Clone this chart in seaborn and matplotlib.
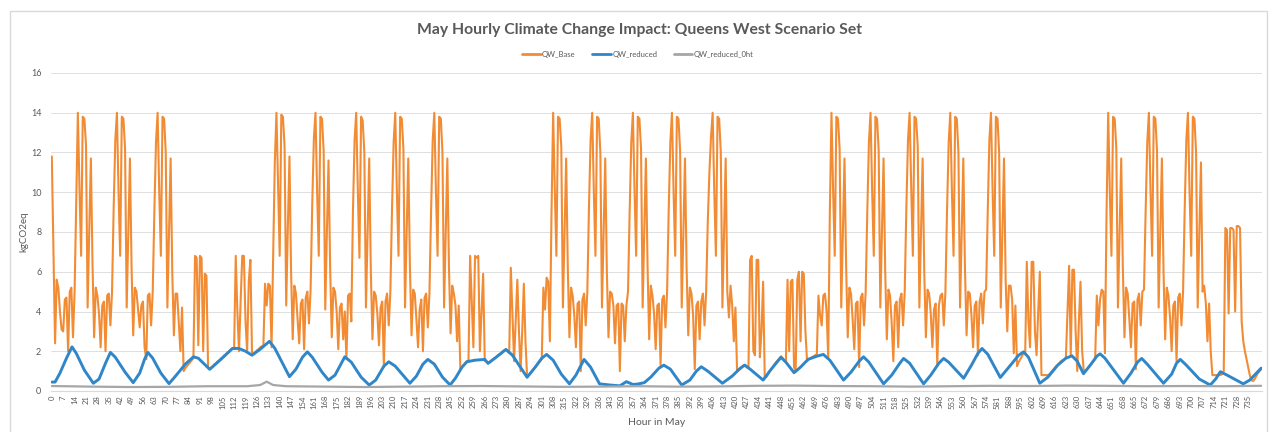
import numpy as np
import pandas as pd
import matplotlib
matplotlib.use("Agg")
import matplotlib.pyplot as plt
import seaborn as sns
from matplotlib.patches import Rectangle
from matplotlib.lines import Line2D

# ---------------- text ----------------
title = "May Hourly Climate Change Impact: Queens West Scenario Set"
series_names = ["QW_Base", "QW_reduced", "QW_reduced_0ht"]
x_label = "Hour in May"
y_label = "kgCO2eq"
y_ticks = [0, 2, 4, 6, 8, 10, 12, 14, 16]
x_tick_hours = list(range(0, 742, 7))

# ---------------- QW_Base (hourly) ----------------
base_week1 = [
    11.8, 7.0, 2.4, 5.6, 5.2, 4.0, 3.1, 3.0, 4.6, 4.7, 2.0, 5.0, 5.2, 2.7, 5.0, 9.5,
    14.0, 10.2, 6.8, 13.8, 13.7, 12.4, 4.2, 8.1, 11.7, 6.4, 2.7, 5.2, 4.8, 3.9, 2.2, 4.3, 4.5, 2.0, 4.8, 4.9, 3.3, 5.0, 9.2, 12.6,
    14.0, 10.0, 6.8, 13.8, 13.7, 12.2, 4.2, 8.0, 11.7, 6.2, 2.8, 5.2, 5.0, 4.1, 3.2, 4.3, 4.5, 2.2, 1.6, 4.8, 4.9, 3.3, 5.0, 9.0, 12.5,
]
base_weekend1 = [
    14.0, 10.0, 6.8, 13.8, 13.7, 12.0, 4.2, 8.0, 11.7, 6.0, 2.8, 4.9, 4.9, 3.4, 2.0, 4.2,
    1.0, 1.15, 1.25, 1.35, 1.45, 1.55, 1.65,
    6.8, 6.7, 2.3, 6.8, 6.7, 2.0, 5.9, 5.8, 1.2,
    1.1, 1.2, 1.25, 1.35, 1.4, 1.5, 1.55, 1.65, 1.7, 1.8, 1.85, 1.95, 2.0, 2.1, 2.15, 2.15,
    6.8, 4.0, 2.0, 4.5, 6.8, 6.8, 3.5, 2.0, 5.5, 6.6, 1.9,
    1.9, 1.95, 2.05, 2.1, 2.2, 2.25, 2.3,
    5.4, 4.3, 5.4, 5.3, 2.2, 7.0, 11.5,
]
base_week2 = [
    14.0, 10.3, 6.8, 13.9, 13.8, 12.3, 4.3, 8.2, 11.8, 6.0, 2.6, 5.3, 4.9, 3.6, 2.4, 4.4, 4.6, 2.1, 4.7, 5.0, 3.4, 5.1, 9.4, 12.7,
    14.0, 10.0, 6.8, 13.8, 13.7, 12.1, 4.1, 8.0, 11.6, 6.2, 2.7, 5.2, 5.0, 4.0, 2.1, 4.2, 4.4, 2.6, 4.0, 1.6, 4.8, 4.9, 3.5, 9.0, 12.6,
    14.0, 10.1, 6.7, 13.8, 13.6, 12.0, 4.2, 8.0, 11.7, 6.0, 2.6, 5.0, 4.8, 3.9, 2.3, 4.2, 4.5, 1.2, 4.5, 4.9, 3.3, 5.0, 9.1, 12.5,
    14.0, 10.0, 6.8, 13.8, 13.7, 12.2, 4.2, 8.0, 11.7, 6.3, 2.8, 5.1, 4.9, 3.6, 2.2, 4.1, 4.6, 2.0, 4.7, 4.9, 3.2, 4.9, 9.0, 12.6,
]
base_weekend2 = [
    14.0, 10.0, 6.8, 13.8, 13.7, 12.0, 4.2, 8.0, 11.7, 6.2, 2.9, 5.3, 4.9, 4.3, 2.5, 4.3, 1.1,
    1.2, 1.3, 1.4, 1.5, 1.55,
    6.8, 4.5, 2.2, 6.8, 6.7, 6.8, 2.0, 4.0, 5.9, 1.5,
    1.5, 1.4, 1.45, 1.5, 1.6, 1.65, 1.7, 1.8, 1.85, 1.9, 2.0, 2.05, 2.1, 2.0, 1.9,
    6.2, 3.8, 1.5, 3.5, 5.6, 3.0, 1.0, 3.0, 5.4, 2.5, 0.75,
    0.8, 0.9, 1.0, 1.1, 1.2, 1.3, 1.4, 1.5, 1.6,
    5.2, 4.1, 5.7, 5.5, 2.5, 9.0,
]
base_week3 = [
    14.0, 10.2, 6.8, 13.8, 13.7, 12.3, 4.2, 8.0, 11.7, 6.2, 2.7, 5.2, 4.8, 3.8, 2.2, 4.4, 4.5, 1.0, 4.6, 4.9, 3.3, 5.0, 9.2, 12.6,
    14.0, 10.0, 6.8, 13.8, 13.7, 12.0, 4.2, 8.0, 11.7, 6.0, 2.7, 5.0, 4.9, 4.3, 2.4, 4.3, 4.4, 1.0, 4.4, 4.3, 2.5, 4.3, 5.0, 9.0, 12.5,
    14.0, 10.1, 6.8, 13.8, 13.7, 12.2, 4.2, 8.1, 11.7, 6.3, 2.6, 5.3, 4.8, 3.9, 2.1, 4.3, 4.4, 1.3, 4.6, 4.8, 3.2, 5.0, 9.1, 12.5,
    14.0, 10.0, 6.8, 13.8, 13.7, 12.1, 4.2, 8.0, 11.7, 6.2, 2.8, 5.2, 4.9, 3.8, 1.1, 4.3, 4.5, 2.6, 4.5, 4.9, 3.3, 5.0, 8.5, 11.0, 12.8,
]
base_weekend3 = [
    14.0, 10.0, 6.8, 13.8, 13.7, 12.0, 4.2, 8.0, 11.7, 5.0, 3.7, 5.3, 4.3, 2.5, 4.2, 1.0,
    1.05, 1.1, 1.2, 1.3, 1.3, 1.2, 1.15,
    6.6, 6.8, 2.0, 1.8, 6.6, 6.6, 1.7, 3.0, 5.5, 0.7,
    0.7, 0.85, 1.0, 1.1, 1.2, 1.35, 1.45, 1.55, 1.65, 1.75, 1.65, 1.55, 1.45,
    5.6, 2.0, 5.5, 5.6, 1.2, 1.0, 5.6, 6.0, 2.5, 6.0, 5.9, 3.0,
    1.5, 1.6, 1.65, 1.7, 1.75, 1.8, 1.85,
    4.8, 3.8, 3.3, 4.8, 4.9, 4.0, 1.7, 9.0,
]
base_week4 = [
    14.0, 10.1, 6.8, 13.8, 13.7, 12.2, 4.2, 8.0, 11.7, 6.3, 2.7, 5.2, 4.9, 3.6, 2.1, 4.4, 4.5, 1.2, 4.7, 4.9, 3.3, 5.0, 9.0, 12.5,
    14.0, 10.0, 6.8, 13.8, 13.7, 12.1, 4.2, 8.0, 11.7, 6.1, 2.6, 5.1, 4.8, 3.4, 1.5, 4.3, 4.5, 2.2, 4.6, 4.9, 3.3, 5.0, 9.2, 12.6,
    14.0, 10.2, 6.8, 13.8, 13.7, 12.3, 4.2, 8.0, 11.7, 6.0, 2.7, 5.1, 4.9, 3.9, 2.2, 4.1, 4.4, 1.3, 4.3, 4.8, 4.9, 3.3, 5.0, 9.1, 12.5,
    14.0, 10.0, 6.8, 13.8, 13.7, 12.0, 4.2, 8.0, 11.7, 6.2, 2.8, 5.0, 4.9, 3.8, 2.2, 4.3, 4.5, 1.8, 4.5, 4.9, 3.4, 5.0, 5.1, 9.0, 12.6,
]
base_weekend4 = [
    14.0, 10.0, 6.8, 13.8, 13.7, 12.0, 4.2, 8.0, 11.7, 5.6, 3.0, 5.3, 5.3, 4.6, 1.9, 4.3,
    1.25, 1.45, 1.6, 1.75, 1.9, 1.85,
    6.5, 3.5, 2.2, 6.5, 6.5, 3.0, 1.8, 4.0, 6.0, 0.8,
    0.8, 0.8, 0.8, 0.8, 0.85, 0.95,
    1.05, 1.15, 1.25, 1.3, 1.4, 1.5, 1.55, 1.6, 1.65,
    4.0, 6.3, 1.8, 6.1, 6.1, 3.0, 1.0, 3.5, 5.5, 2.0, 1.0,
    1.0, 1.1, 1.2, 1.3, 1.4, 1.5, 1.6,
    4.8, 3.3, 4.6, 5.1, 5.0, 1.9, 9.0,
]
base_week5 = [
    14.0, 10.0, 6.8, 13.8, 13.7, 12.2, 4.2, 8.0, 11.7, 6.2, 2.7, 5.2, 4.9, 3.6, 2.2, 4.4, 4.5, 1.1, 4.6, 4.9, 3.3, 5.0, 5.1, 9.0, 12.5,
    14.0, 10.1, 6.8, 13.8, 13.7, 12.1, 4.2, 8.0, 11.7, 6.0, 2.6, 5.2, 4.8, 3.7, 2.0, 4.3, 4.5, 1.5, 4.7, 4.9, 3.3, 5.0, 9.1, 12.6,
    14.0, 10.0, 6.8, 13.8, 13.7, 12.0, 4.2, 8.0, 11.5, 5.0, 5.3, 4.4, 2.5, 4.4, 2.0,
    0.8, 0.8, 0.8, 0.8, 0.8, 0.8, 0.85, 1.0,
    8.2, 8.1, 3.9, 8.2, 8.2, 8.1, 4.0, 8.3, 8.3, 8.2, 3.5,
    2.5, 2.0, 1.6, 1.2, 0.8, 0.55, 0.5, 0.6, 0.75, 0.9, 1.0, 1.1,
]

# ---------------- QW_reduced (readings: hour, value) ----------------
reduced_hours = [0, 2, 5, 9, 12.4, 15, 20, 25.5, 29, 33, 36, 39, 45, 50, 54, 57, 59, 62,
                 67, 72, 76, 82, 87, 90, 97, 104, 111, 115, 119, 123, 128, 133.7, 137,
                 146, 150, 154, 157, 160, 166, 170, 174, 180, 184, 190, 195, 199, 204,
                 207, 211, 220, 224, 228, 231, 235, 240, 244.7, 248, 252, 255, 260, 266,
                 268, 273, 279, 283, 292, 297, 301, 304, 308, 313, 318, 322, 327, 331,
                 336.5, 343, 349, 353, 357, 360, 364, 368, 373, 376, 380, 387, 392, 396,
                 399, 403, 412, 418, 423, 425.7, 429, 437, 442, 446, 448, 451, 456, 460,
                 464.6, 470, 474, 478, 486.4, 491, 496, 498.7, 502, 511, 516, 521, 523.3,
                 527, 535.6, 540, 545, 547.9, 551, 560.2, 565, 569, 571.5, 575, 582.7,
                 588, 594, 597, 600, 607, 612, 618, 623, 626.7, 630, 633.8, 638, 642, 644,
                 647, 658.4, 663, 667, 669.6, 673, 683, 688, 691, 693.3, 697, 705, 711.7,
                 715, 717.9, 722, 732, 736, 743]
reduced_vals = [0.45, 0.45, 0.9, 1.65, 2.22, 1.9, 1.05, 0.39, 0.6, 1.4, 1.94, 1.7, 0.95, 0.42, 0.9,
                1.6, 1.94, 1.65, 0.9, 0.37, 0.75, 1.35, 1.72, 1.65, 1.09, 1.6, 2.14, 2.14,
                2.0, 1.8, 2.1, 2.5, 2.15, 0.72, 1.1, 1.7, 1.97, 1.7, 0.95, 0.55, 0.8, 1.72,
                1.45, 0.7, 0.3, 0.55, 1.25, 1.47, 1.25, 0.39, 0.75, 1.35, 1.59, 1.35, 0.7,
                0.3, 0.65, 1.2, 1.47, 1.55, 1.59, 1.39, 1.7, 2.09, 1.8, 0.69, 1.2, 1.65,
                1.84, 1.55, 0.85, 0.36, 0.8, 1.59, 1.2, 0.36, 0.3, 0.26, 0.47, 0.33, 0.35,
                0.42, 0.7, 1.15, 1.3, 1.1, 0.3, 0.55, 1.0, 1.22, 1.0, 0.39, 0.75, 1.15, 1.3,
                1.1, 0.55, 1.1, 1.5, 1.69, 1.45, 0.92, 1.2, 1.59, 1.75, 1.84, 1.55, 0.55,
                0.95, 1.5, 1.72, 1.45, 0.36, 0.8, 1.4, 1.64, 1.4, 0.36, 0.8, 1.4, 1.64, 1.45,
                0.64, 1.3, 1.9, 2.14, 1.85, 0.68, 1.2, 1.8, 1.97, 1.7, 0.39, 0.7, 1.3, 1.65,
                1.77, 1.5, 0.87, 1.3, 1.75, 1.87, 1.65, 0.39, 0.9, 1.45, 1.64, 1.35, 0.39,
                0.85, 1.4, 1.59, 1.3, 0.6, 0.3, 0.6, 0.97, 0.8, 0.36, 0.55, 1.15]

# ---------------- QW_reduced_0ht (readings: hour, value) ----------------
reduced0_hours = [0, 24, 48, 72, 96, 120, 128, 132, 136, 144, 168, 192, 216, 240,
                  264, 288, 312, 336, 360, 384, 408, 432, 456, 480, 504, 528, 552,
                  576, 600, 624, 648, 672, 696, 720, 743]
reduced0_vals = [0.25, 0.22, 0.2, 0.21, 0.24, 0.24, 0.3, 0.47, 0.3, 0.24, 0.22, 0.2, 0.22, 0.24,
                 0.25, 0.23, 0.21, 0.22, 0.24, 0.22, 0.23, 0.26, 0.27, 0.25, 0.24, 0.22, 0.24,
                 0.26, 0.25, 0.27, 0.26, 0.24, 0.25, 0.24, 0.26]

# ---------------- assemble ----------------
base_vals = (base_week1 + base_weekend1 + base_week2 + base_weekend2 + base_week3 +
             base_weekend3 + base_week4 + base_weekend4 + base_week5)
assert len(base_vals) == 744, len(base_vals)
assert len(reduced_hours) == len(reduced_vals), (len(reduced_hours), len(reduced_vals))
base_df = pd.DataFrame({"hour": np.arange(len(base_vals)), "kg": base_vals})
red_df = pd.DataFrame({"hour": reduced_hours, "kg": reduced_vals})
red0_df = pd.DataFrame({"hour": reduced0_hours, "kg": reduced0_vals})

# ---------------- style ----------------
sns.set_theme(style="white")
plt.rcParams["font.family"] = ["Lato", "DejaVu Sans"]

c_base = "#F28C34"
c_red = "#2F86C8"
c_red0 = "#A6A6A6"
txt = "#595959"

W, H = 1271, 432
fig = plt.figure(figsize=(W / 100, H / 100), dpi=100)
ax = fig.add_axes([51 / W, 1 - 391 / H, (1262 - 51) / W, (391 - 73) / H])

sns.lineplot(data=base_df, x="hour", y="kg", ax=ax, color=c_base, linewidth=1.5,
             estimator=None, sort=False, label=series_names[0])
sns.lineplot(data=red_df, x="hour", y="kg", ax=ax, color=c_red, linewidth=2.1,
             estimator=None, sort=False, label=series_names[1])
sns.lineplot(data=red0_df, x="hour", y="kg", ax=ax, color=c_red0, linewidth=1.6,
             estimator=None, sort=False, label=series_names[2])
for ln in ax.lines:
    ln.set_solid_joinstyle("round")

ax.set_xlim(-0.5, 743.5)
ax.set_ylim(0, 16)
ax.set_yticks(y_ticks)
ax.set_yticklabels([str(v) for v in y_ticks], fontsize=6.5, color=txt)
ax.set_xticks(x_tick_hours)
ax.set_xticklabels([str(v) for v in x_tick_hours], rotation=90, fontsize=5.5, color=txt)
ax.tick_params(axis="both", length=0)
ax.tick_params(axis="y", pad=7)
ax.tick_params(axis="x", pad=3)
ax.grid(axis="y", color="#DEDEDE", linewidth=0.7)
ax.set_axisbelow(True)
for s in ["top", "right", "left"]:
    ax.spines[s].set_visible(False)
ax.spines["bottom"].set_color("#D9D9D9")
ax.spines["bottom"].set_linewidth(0.8)
ax.set_xlabel(x_label, fontsize=7.5, color=txt, labelpad=7)
ax.set_ylabel(y_label, fontsize=7, color=txt, labelpad=2)
ax.legend_.remove()

fig.text(0.5035, 1 - 30 / H, title, ha="center", va="center", fontsize=11.3,
         fontweight="bold", color=txt)

handles = [Line2D([], [], color=c, linewidth=2) for c in (c_base, c_red, c_red0)]
fig.legend(handles, series_names, loc="center", bbox_to_anchor=(0.502, 1 - 54 / H),
           ncol=3, frameon=False, fontsize=5.5, handlelength=2.4, handletextpad=0.2,
           columnspacing=2.2, labelcolor=txt)

# chart-area border
fig.patches.append(Rectangle((10 / W, -0.01), (1267 - 10) / W, (H - 11) / H + 0.01,
                             transform=fig.transFigure, fill=False,
                             edgecolor="#D9D9D9", linewidth=1.0))

fig.savefig("out.png", dpi=100, facecolor="white")
